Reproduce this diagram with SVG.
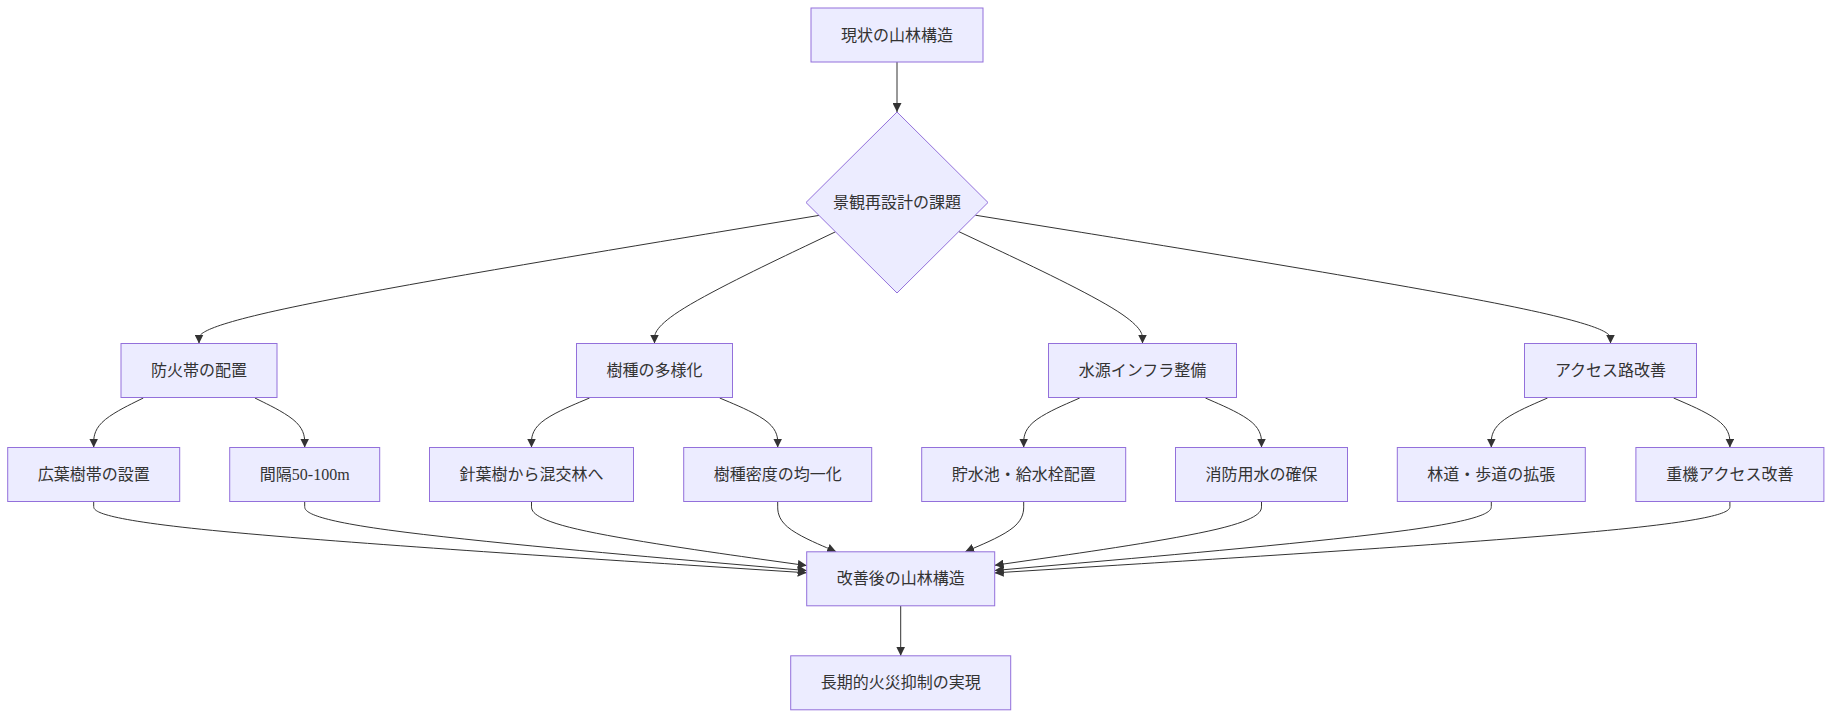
<svg xmlns="http://www.w3.org/2000/svg" width="1832" height="718" viewBox="0 0 1832 718">
<style>
.node rect, .node polygon { fill: #ECECFF; stroke: #9370DB; stroke-width: 1; }
.node text { font-family: "Liberation Serif", "Noto Sans CJK JP", sans-serif; font-size: 16px; fill: #333333; text-anchor: middle; dominant-baseline: central; }
.edges path { fill: none; stroke: #333333; stroke-width: 1; marker-end: url(#arrow); }
</style>
<defs>
<marker id="arrow" viewBox="0 0 10 10" refX="10" refY="5" markerUnits="userSpaceOnUse" markerWidth="9" markerHeight="9" orient="auto">
<path d="M0,0 L10,5 L0,10 z" fill="#333333"/>
</marker>
</defs>
<rect width="1832" height="718" fill="#ffffff"/>
<g class="edges">
<path d="M897,62 L897,112"/>
<path d="M819,215.4 L715.7,232.5 C612.3,249.6 405.7,283.8 302.3,305.1 C199,326.3 199,334.7 199,338.8 L199,343.5"/>
<path d="M835.5,231.8 L805.3,246.2 C775.2,260.5 714.8,289.3 684.7,307.8 C654.5,326.3 654.5,334.7 654.5,338.8 L654.5,343.5"/>
<path d="M958.8,231.6 L989.4,246 C1020,260.4 1081.3,289.2 1111.9,307.8 C1142.5,326.3 1142.5,334.7 1142.5,338.8 L1142.5,343.5"/>
<path d="M975.3,215.2 L1081.2,232.3 C1187,249.5 1398.8,283.7 1504.6,305 C1610.5,326.3 1610.5,334.7 1610.5,338.8 L1610.5,343.5"/>
<path d="M143.3,398 L135,402.1 C126.8,406.2 110.2,414.3 102,422.5 C93.7,430.7 93.7,438.8 93.7,442.9 L93.7,447.5"/>
<path d="M254.9,398 L263.2,402.1 C271.5,406.2 288.1,414.3 296.4,422.5 C304.7,430.7 304.7,438.8 304.7,442.9 L304.7,447.5"/>
<path d="M589.5,398 L579.8,402.1 C570.2,406.2 550.8,414.3 541.2,422.5 C531.5,430.7 531.5,438.8 531.5,442.9 L531.5,447.5"/>
<path d="M719.7,398 L729.4,402.1 C739,406.2 758.4,414.3 768,422.5 C777.7,430.7 777.7,438.8 777.7,442.9 L777.7,447.5"/>
<path d="M1079.7,398 L1070.4,402.1 C1061,406.2 1042.4,414.3 1033,422.5 C1023.7,430.7 1023.7,438.8 1023.7,442.9 L1023.7,447.5"/>
<path d="M1205.4,398 L1214.75,402.1 C1224.1,406.2 1242.8,414.3 1252.15,422.5 C1261.5,430.7 1261.5,438.8 1261.5,442.9 L1261.5,447.5"/>
<path d="M1547.5,398 L1538.1,402.1 C1528.8,406.2 1510,414.3 1500.7,422.5 C1491.3,430.7 1491.3,438.8 1491.3,442.9 L1491.3,447.5"/>
<path d="M1673.6,398 L1683,402.1 C1692.4,406.2 1711.1,414.3 1720.5,422.5 C1729.9,430.7 1729.9,438.8 1729.9,442.9 L1729.9,447.5"/>
<path d="M93.7,502 L93.7,506.15 C93.7,510.3 93.7,518.6 212.5,530.4 C331.4,542.2 569,557.5 687.9,565.1 L806.7,572.8"/>
<path d="M304.7,502 L304.7,506.15 C304.7,510.3 304.7,518.6 388.4,530 C472,541.5 639.4,556 723,563.3 L806.7,570.6"/>
<path d="M531.5,502 L531.5,506.15 C531.5,510.3 531.5,518.6 577.4,529.2 C623.2,539.8 715,552.7 760.8,559.2 L806.7,565.6"/>
<path d="M777.7,502 L777.7,506.15 C777.7,510.3 777.7,518.6 787.5,526.9 C797.2,535.2 816.7,543.4 826.45,547.6 L836.2,551.7"/>
<path d="M1023.7,502 L1023.7,506.15 C1023.7,510.3 1023.7,518.6 1013.95,526.9 C1004.2,535.2 984.7,543.4 974.95,547.6 L965.2,551.7"/>
<path d="M1261.5,502 L1261.5,506.15 C1261.5,510.3 1261.5,518.6 1217,529.15 C1172.6,539.7 1083.6,552.5 1039.2,558.9 L994.7,565.3"/>
<path d="M1491.3,502 L1491.3,506.15 C1491.3,510.3 1491.3,518.6 1408.5,530 C1325.8,541.4 1160.2,556 1077.5,563.2 L994.7,570.5"/>
<path d="M1729.9,502 L1729.9,506.15 C1729.9,510.3 1729.9,518.6 1607.4,530.4 C1484.8,542.2 1239.8,557.6 1117.2,565.2 L994.7,572.9"/>
<path d="M900.7,606 L900.7,655.7"/>
</g>
<g id="n-current" class="node"><rect x="811" y="8" width="172" height="54"/><text x="897" y="35">現状の山林構造</text></g>
<g id="n-issue" class="node"><polygon points="897,112 988,202.5 897,293 806,202.5"/><text x="897" y="202.5">景観再設計の課題</text></g>
<g id="n-firebreak" class="node"><rect x="121" y="343.5" width="156" height="54"/><text x="199" y="370.5">防火帯の配置</text></g>
<g id="n-diversify" class="node"><rect x="576.5" y="343.5" width="156" height="54"/><text x="654.5" y="370.5">樹種の多様化</text></g>
<g id="n-water" class="node"><rect x="1048.5" y="343.5" width="188" height="54"/><text x="1142.5" y="370.5">水源インフラ整備</text></g>
<g id="n-access" class="node"><rect x="1524.5" y="343.5" width="172" height="54"/><text x="1610.5" y="370.5">アクセス路改善</text></g>
<g id="n-broadleaf" class="node"><rect x="7.7" y="447.5" width="172" height="54"/><text x="93.7" y="474.5">広葉樹帯の設置</text></g>
<g id="n-interval" class="node"><rect x="229.7" y="447.5" width="150" height="54"/><text x="304.7" y="474.5">間隔50-100m</text></g>
<g id="n-mixed" class="node"><rect x="429.5" y="447.5" width="204" height="54"/><text x="531.5" y="474.5">針葉樹から混交林へ</text></g>
<g id="n-density" class="node"><rect x="683.7" y="447.5" width="188" height="54"/><text x="777.7" y="474.5">樹種密度の均一化</text></g>
<g id="n-reservoir" class="node"><rect x="921.7" y="447.5" width="204" height="54"/><text x="1023.7" y="474.5">貯水池・給水栓配置</text></g>
<g id="n-firewater" class="node"><rect x="1175.5" y="447.5" width="172" height="54"/><text x="1261.5" y="474.5">消防用水の確保</text></g>
<g id="n-road" class="node"><rect x="1397.3" y="447.5" width="188" height="54"/><text x="1491.3" y="474.5">林道・歩道の拡張</text></g>
<g id="n-machine" class="node"><rect x="1635.9" y="447.5" width="188" height="54"/><text x="1729.9" y="474.5">重機アクセス改善</text></g>
<g id="n-improved" class="node"><rect x="806.7" y="551.8" width="188" height="54"/><text x="900.7" y="578.8">改善後の山林構造</text></g>
<g id="n-result" class="node"><rect x="790.7" y="655.8" width="220" height="54"/><text x="900.7" y="682.8">長期的火災抑制の実現</text></g>
</svg>
